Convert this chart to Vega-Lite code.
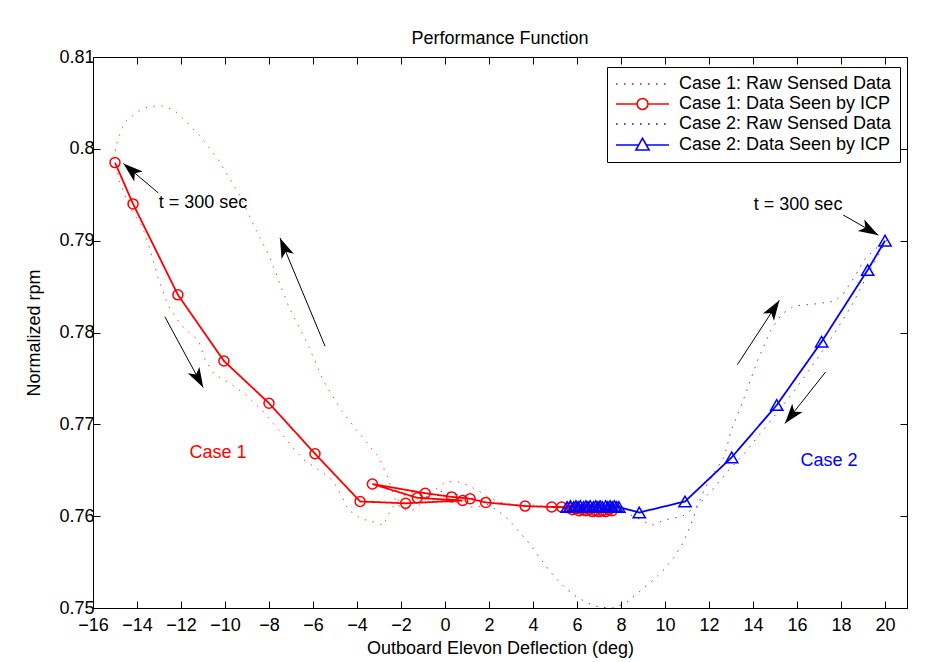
{
  "$schema": "https://vega.github.io/schema/vega-lite/v6.json",
  "width": 814,
  "height": 551,
  "autosize": {"type": "none"},
  "padding": {"left": 93, "top": 57, "right": 18, "bottom": 54},
  "background": "white",
  "title": {"text": "Performance Function", "fontSize": 18, "font": "Liberation Sans", "fontWeight": "normal", "color": "black", "anchor": "middle", "offset": 0},
  "config": {
    "font": "Liberation Sans",
    "view": {"stroke": null},
    "axis": {
      "grid": false, "domainColor": "black", "domainWidth": 1, "tickColor": "black", "tickWidth": 1, "tickSize": -7,
      "labelFont": "Liberation Sans", "labelFontSize": 18, "labelColor": "black", "labelFlush": false, "labelOverlap": false,
      "titleFont": "Liberation Sans", "titleFontSize": 18, "titleFontWeight": "normal", "titleColor": "black"
    },
    "legend": {
      "title": null, "orient": "none", "legendX": 514, "legendY": 10,
      "fillColor": "white", "strokeColor": "black", "padding": 8,
      "labelFont": "Liberation Sans", "labelFontSize": 18, "labelColor": "black", "labelLimit": 400,
      "symbolSize": 256, "labelOffset": 46, "rowPadding": 2, "symbolStrokeWidth": 1.6, "symbolFillColor": "white", "symbolOpacity": 1
    }
  },
  "datasets": {
    "raw": [
      {"s": "Case 1: Raw Sensed Data", "t": 1, "x": 8.0, "y": 0.7604},
      {"s": "Case 1: Raw Sensed Data", "t": 2, "x": 7.5, "y": 0.7602},
      {"s": "Case 1: Raw Sensed Data", "t": 3, "x": 7.0, "y": 0.7601},
      {"s": "Case 1: Raw Sensed Data", "t": 4, "x": 6.5, "y": 0.7602},
      {"s": "Case 1: Raw Sensed Data", "t": 5, "x": 6.0, "y": 0.7604},
      {"s": "Case 1: Raw Sensed Data", "t": 6, "x": 5.5, "y": 0.7607},
      {"s": "Case 1: Raw Sensed Data", "t": 7, "x": 5.0, "y": 0.7609},
      {"s": "Case 1: Raw Sensed Data", "t": 8, "x": 4.5, "y": 0.7611},
      {"s": "Case 1: Raw Sensed Data", "t": 9, "x": 4.0, "y": 0.7612},
      {"s": "Case 1: Raw Sensed Data", "t": 10, "x": 3.5, "y": 0.7612},
      {"s": "Case 1: Raw Sensed Data", "t": 11, "x": 3.0, "y": 0.7613},
      {"s": "Case 1: Raw Sensed Data", "t": 12, "x": 2.5, "y": 0.7615},
      {"s": "Case 1: Raw Sensed Data", "t": 13, "x": 2.0, "y": 0.7620},
      {"s": "Case 1: Raw Sensed Data", "t": 14, "x": 1.5, "y": 0.7628},
      {"s": "Case 1: Raw Sensed Data", "t": 15, "x": 1.0, "y": 0.7634},
      {"s": "Case 1: Raw Sensed Data", "t": 16, "x": 0.5, "y": 0.7638},
      {"s": "Case 1: Raw Sensed Data", "t": 17, "x": 0.0, "y": 0.7637},
      {"s": "Case 1: Raw Sensed Data", "t": 18, "x": -0.5, "y": 0.7628},
      {"s": "Case 1: Raw Sensed Data", "t": 19, "x": -1.0, "y": 0.7615},
      {"s": "Case 1: Raw Sensed Data", "t": 20, "x": -1.5, "y": 0.7606},
      {"s": "Case 1: Raw Sensed Data", "t": 21, "x": -2.0, "y": 0.7608},
      {"s": "Case 1: Raw Sensed Data", "t": 22, "x": -2.3, "y": 0.7620},
      {"s": "Case 1: Raw Sensed Data", "t": 23, "x": -2.6, "y": 0.7642},
      {"s": "Case 1: Raw Sensed Data", "t": 24, "x": -3.0, "y": 0.7664},
      {"s": "Case 1: Raw Sensed Data", "t": 25, "x": -3.55, "y": 0.7680},
      {"s": "Case 1: Raw Sensed Data", "t": 26, "x": -4.0, "y": 0.7693},
      {"s": "Case 1: Raw Sensed Data", "t": 27, "x": -4.7, "y": 0.7715},
      {"s": "Case 1: Raw Sensed Data", "t": 28, "x": -5.5, "y": 0.7746},
      {"s": "Case 1: Raw Sensed Data", "t": 29, "x": -6.2, "y": 0.7785},
      {"s": "Case 1: Raw Sensed Data", "t": 30, "x": -7.1, "y": 0.7828},
      {"s": "Case 1: Raw Sensed Data", "t": 31, "x": -8.0, "y": 0.7884},
      {"s": "Case 1: Raw Sensed Data", "t": 32, "x": -8.6, "y": 0.7912},
      {"s": "Case 1: Raw Sensed Data", "t": 33, "x": -9.3, "y": 0.7948},
      {"s": "Case 1: Raw Sensed Data", "t": 34, "x": -10.3, "y": 0.7988},
      {"s": "Case 1: Raw Sensed Data", "t": 35, "x": -11.0, "y": 0.8010},
      {"s": "Case 1: Raw Sensed Data", "t": 36, "x": -11.7, "y": 0.8028},
      {"s": "Case 1: Raw Sensed Data", "t": 37, "x": -12.3, "y": 0.8042},
      {"s": "Case 1: Raw Sensed Data", "t": 38, "x": -12.9, "y": 0.8047},
      {"s": "Case 1: Raw Sensed Data", "t": 39, "x": -13.5, "y": 0.8046},
      {"s": "Case 1: Raw Sensed Data", "t": 40, "x": -14.0, "y": 0.8040},
      {"s": "Case 1: Raw Sensed Data", "t": 41, "x": -14.55, "y": 0.8029},
      {"s": "Case 1: Raw Sensed Data", "t": 42, "x": -14.85, "y": 0.8012},
      {"s": "Case 1: Raw Sensed Data", "t": 43, "x": -15.05, "y": 0.7992},
      {"s": "Case 1: Raw Sensed Data", "t": 44, "x": -14.8, "y": 0.7965},
      {"s": "Case 1: Raw Sensed Data", "t": 45, "x": -14.3, "y": 0.7935},
      {"s": "Case 1: Raw Sensed Data", "t": 46, "x": -13.75, "y": 0.7915},
      {"s": "Case 1: Raw Sensed Data", "t": 47, "x": -13.4, "y": 0.7890},
      {"s": "Case 1: Raw Sensed Data", "t": 48, "x": -13.05, "y": 0.7860},
      {"s": "Case 1: Raw Sensed Data", "t": 49, "x": -12.6, "y": 0.7830},
      {"s": "Case 1: Raw Sensed Data", "t": 50, "x": -12.0, "y": 0.7808},
      {"s": "Case 1: Raw Sensed Data", "t": 51, "x": -11.2, "y": 0.7791},
      {"s": "Case 1: Raw Sensed Data", "t": 52, "x": -10.9, "y": 0.7770},
      {"s": "Case 1: Raw Sensed Data", "t": 53, "x": -10.5, "y": 0.7755},
      {"s": "Case 1: Raw Sensed Data", "t": 54, "x": -9.8, "y": 0.7745},
      {"s": "Case 1: Raw Sensed Data", "t": 55, "x": -9.1, "y": 0.7733},
      {"s": "Case 1: Raw Sensed Data", "t": 56, "x": -8.3, "y": 0.7715},
      {"s": "Case 1: Raw Sensed Data", "t": 57, "x": -7.6, "y": 0.7695},
      {"s": "Case 1: Raw Sensed Data", "t": 58, "x": -7.0, "y": 0.7677},
      {"s": "Case 1: Raw Sensed Data", "t": 59, "x": -6.4, "y": 0.7661},
      {"s": "Case 1: Raw Sensed Data", "t": 60, "x": -5.7, "y": 0.7650},
      {"s": "Case 1: Raw Sensed Data", "t": 61, "x": -5.1, "y": 0.7639},
      {"s": "Case 1: Raw Sensed Data", "t": 62, "x": -4.7, "y": 0.7622},
      {"s": "Case 1: Raw Sensed Data", "t": 63, "x": -4.4, "y": 0.7607},
      {"s": "Case 1: Raw Sensed Data", "t": 64, "x": -3.8, "y": 0.7597},
      {"s": "Case 1: Raw Sensed Data", "t": 65, "x": -3.1, "y": 0.7593},
      {"s": "Case 1: Raw Sensed Data", "t": 66, "x": -2.8, "y": 0.7590},
      {"s": "Case 1: Raw Sensed Data", "t": 67, "x": -2.55, "y": 0.7603},
      {"s": "Case 1: Raw Sensed Data", "t": 68, "x": -2.2, "y": 0.7616},
      {"s": "Case 1: Raw Sensed Data", "t": 69, "x": -1.8, "y": 0.7623},
      {"s": "Case 1: Raw Sensed Data", "t": 70, "x": -1.3, "y": 0.7627},
      {"s": "Case 1: Raw Sensed Data", "t": 71, "x": -0.8, "y": 0.7621},
      {"s": "Case 1: Raw Sensed Data", "t": 72, "x": -0.3, "y": 0.7616},
      {"s": "Case 1: Raw Sensed Data", "t": 73, "x": 0.2, "y": 0.7619},
      {"s": "Case 1: Raw Sensed Data", "t": 74, "x": 0.7, "y": 0.7613},
      {"s": "Case 1: Raw Sensed Data", "t": 75, "x": 1.2, "y": 0.7610},
      {"s": "Case 1: Raw Sensed Data", "t": 76, "x": 1.8, "y": 0.7611},
      {"s": "Case 2: Raw Sensed Data", "t": 1, "x": -0.2, "y": 0.7627},
      {"s": "Case 2: Raw Sensed Data", "t": 2, "x": 0.5, "y": 0.7624},
      {"s": "Case 2: Raw Sensed Data", "t": 3, "x": 1.2, "y": 0.7620},
      {"s": "Case 2: Raw Sensed Data", "t": 4, "x": 1.9, "y": 0.7613},
      {"s": "Case 2: Raw Sensed Data", "t": 5, "x": 2.4, "y": 0.7606},
      {"s": "Case 2: Raw Sensed Data", "t": 6, "x": 2.9, "y": 0.7596},
      {"s": "Case 2: Raw Sensed Data", "t": 7, "x": 3.4, "y": 0.7582},
      {"s": "Case 2: Raw Sensed Data", "t": 8, "x": 3.85, "y": 0.7570},
      {"s": "Case 2: Raw Sensed Data", "t": 9, "x": 4.2, "y": 0.7558},
      {"s": "Case 2: Raw Sensed Data", "t": 10, "x": 4.6, "y": 0.7545},
      {"s": "Case 2: Raw Sensed Data", "t": 11, "x": 5.06, "y": 0.7532},
      {"s": "Case 2: Raw Sensed Data", "t": 12, "x": 5.5, "y": 0.7521},
      {"s": "Case 2: Raw Sensed Data", "t": 13, "x": 6.0, "y": 0.7512},
      {"s": "Case 2: Raw Sensed Data", "t": 14, "x": 6.5, "y": 0.7505},
      {"s": "Case 2: Raw Sensed Data", "t": 15, "x": 7.0, "y": 0.7501},
      {"s": "Case 2: Raw Sensed Data", "t": 16, "x": 7.6, "y": 0.7500},
      {"s": "Case 2: Raw Sensed Data", "t": 17, "x": 8.2, "y": 0.7505},
      {"s": "Case 2: Raw Sensed Data", "t": 18, "x": 8.85, "y": 0.7518},
      {"s": "Case 2: Raw Sensed Data", "t": 19, "x": 9.45, "y": 0.7530},
      {"s": "Case 2: Raw Sensed Data", "t": 20, "x": 10.0, "y": 0.7543},
      {"s": "Case 2: Raw Sensed Data", "t": 21, "x": 10.4, "y": 0.7555},
      {"s": "Case 2: Raw Sensed Data", "t": 22, "x": 10.8, "y": 0.7570},
      {"s": "Case 2: Raw Sensed Data", "t": 23, "x": 11.15, "y": 0.7589},
      {"s": "Case 2: Raw Sensed Data", "t": 24, "x": 11.5, "y": 0.7612},
      {"s": "Case 2: Raw Sensed Data", "t": 25, "x": 11.8, "y": 0.7630},
      {"s": "Case 2: Raw Sensed Data", "t": 26, "x": 12.2, "y": 0.7646},
      {"s": "Case 2: Raw Sensed Data", "t": 27, "x": 12.7, "y": 0.7665},
      {"s": "Case 2: Raw Sensed Data", "t": 28, "x": 13.0, "y": 0.7693},
      {"s": "Case 2: Raw Sensed Data", "t": 29, "x": 13.6, "y": 0.7729},
      {"s": "Case 2: Raw Sensed Data", "t": 30, "x": 14.2, "y": 0.7769},
      {"s": "Case 2: Raw Sensed Data", "t": 31, "x": 14.8, "y": 0.7802},
      {"s": "Case 2: Raw Sensed Data", "t": 32, "x": 15.3, "y": 0.7820},
      {"s": "Case 2: Raw Sensed Data", "t": 33, "x": 15.9, "y": 0.7829},
      {"s": "Case 2: Raw Sensed Data", "t": 34, "x": 16.8, "y": 0.7831},
      {"s": "Case 2: Raw Sensed Data", "t": 35, "x": 17.7, "y": 0.7834},
      {"s": "Case 2: Raw Sensed Data", "t": 36, "x": 18.1, "y": 0.7842},
      {"s": "Case 2: Raw Sensed Data", "t": 37, "x": 18.6, "y": 0.7860},
      {"s": "Case 2: Raw Sensed Data", "t": 38, "x": 19.05, "y": 0.7879},
      {"s": "Case 2: Raw Sensed Data", "t": 39, "x": 19.5, "y": 0.7890},
      {"s": "Case 2: Raw Sensed Data", "t": 40, "x": 19.9, "y": 0.7897},
      {"s": "Case 2: Raw Sensed Data", "t": 41, "x": 20.1, "y": 0.7902},
      {"s": "Case 2: Raw Sensed Data", "t": 42, "x": 19.6, "y": 0.7880},
      {"s": "Case 2: Raw Sensed Data", "t": 43, "x": 19.1, "y": 0.7858},
      {"s": "Case 2: Raw Sensed Data", "t": 44, "x": 18.5, "y": 0.7830},
      {"s": "Case 2: Raw Sensed Data", "t": 45, "x": 17.8, "y": 0.7803},
      {"s": "Case 2: Raw Sensed Data", "t": 46, "x": 17.1, "y": 0.7778},
      {"s": "Case 2: Raw Sensed Data", "t": 47, "x": 16.4, "y": 0.7754},
      {"s": "Case 2: Raw Sensed Data", "t": 48, "x": 15.7, "y": 0.7731},
      {"s": "Case 2: Raw Sensed Data", "t": 49, "x": 15.0, "y": 0.7710},
      {"s": "Case 2: Raw Sensed Data", "t": 50, "x": 14.3, "y": 0.7689},
      {"s": "Case 2: Raw Sensed Data", "t": 51, "x": 13.6, "y": 0.7668},
      {"s": "Case 2: Raw Sensed Data", "t": 52, "x": 12.9, "y": 0.7650},
      {"s": "Case 2: Raw Sensed Data", "t": 53, "x": 12.2, "y": 0.7630},
      {"s": "Case 2: Raw Sensed Data", "t": 54, "x": 11.5, "y": 0.7612},
      {"s": "Case 2: Raw Sensed Data", "t": 55, "x": 10.8, "y": 0.7600},
      {"s": "Case 2: Raw Sensed Data", "t": 56, "x": 10.0, "y": 0.7596},
      {"s": "Case 2: Raw Sensed Data", "t": 57, "x": 9.4, "y": 0.7590},
      {"s": "Case 2: Raw Sensed Data", "t": 58, "x": 8.9, "y": 0.7596},
      {"s": "Case 2: Raw Sensed Data", "t": 59, "x": 8.3, "y": 0.7603},
      {"s": "Case 2: Raw Sensed Data", "t": 60, "x": 7.6, "y": 0.7607}
    ],
    "icp": [
      {"s": "Case 1: Data Seen by ICP", "t": 1, "x": 7.6, "y": 0.7606},
      {"s": "Case 1: Data Seen by ICP", "t": 2, "x": 7.45, "y": 0.7607},
      {"s": "Case 1: Data Seen by ICP", "t": 3, "x": 7.3, "y": 0.7605},
      {"s": "Case 1: Data Seen by ICP", "t": 4, "x": 7.15, "y": 0.7606},
      {"s": "Case 1: Data Seen by ICP", "t": 5, "x": 7.0, "y": 0.7605},
      {"s": "Case 1: Data Seen by ICP", "t": 6, "x": 6.85, "y": 0.7606},
      {"s": "Case 1: Data Seen by ICP", "t": 7, "x": 6.7, "y": 0.7605},
      {"s": "Case 1: Data Seen by ICP", "t": 8, "x": 6.55, "y": 0.7607},
      {"s": "Case 1: Data Seen by ICP", "t": 9, "x": 6.4, "y": 0.7606},
      {"s": "Case 1: Data Seen by ICP", "t": 10, "x": 6.25, "y": 0.7607},
      {"s": "Case 1: Data Seen by ICP", "t": 11, "x": 6.1, "y": 0.7606},
      {"s": "Case 1: Data Seen by ICP", "t": 12, "x": 5.95, "y": 0.7608},
      {"s": "Case 1: Data Seen by ICP", "t": 13, "x": 5.8, "y": 0.7607},
      {"s": "Case 1: Data Seen by ICP", "t": 14, "x": 5.65, "y": 0.7609},
      {"s": "Case 1: Data Seen by ICP", "t": 15, "x": 5.3, "y": 0.7610},
      {"s": "Case 1: Data Seen by ICP", "t": 16, "x": 4.85, "y": 0.7610},
      {"s": "Case 1: Data Seen by ICP", "t": 17, "x": 3.64, "y": 0.7611},
      {"s": "Case 1: Data Seen by ICP", "t": 18, "x": 1.85, "y": 0.7615},
      {"s": "Case 1: Data Seen by ICP", "t": 19, "x": 1.14, "y": 0.7619},
      {"s": "Case 1: Data Seen by ICP", "t": 20, "x": 0.3, "y": 0.7621},
      {"s": "Case 1: Data Seen by ICP", "t": 21, "x": -0.9, "y": 0.7625},
      {"s": "Case 1: Data Seen by ICP", "t": 22, "x": -3.3, "y": 0.7635},
      {"s": "Case 1: Data Seen by ICP", "t": 23, "x": -1.26, "y": 0.7620},
      {"s": "Case 1: Data Seen by ICP", "t": 24, "x": 0.8, "y": 0.7617},
      {"s": "Case 1: Data Seen by ICP", "t": 25, "x": -1.79, "y": 0.7614},
      {"s": "Case 1: Data Seen by ICP", "t": 26, "x": -3.86, "y": 0.7616},
      {"s": "Case 1: Data Seen by ICP", "t": 27, "x": -5.91, "y": 0.7668},
      {"s": "Case 1: Data Seen by ICP", "t": 28, "x": -8.0, "y": 0.7723},
      {"s": "Case 1: Data Seen by ICP", "t": 29, "x": -10.05, "y": 0.7769},
      {"s": "Case 1: Data Seen by ICP", "t": 30, "x": -12.14, "y": 0.7841},
      {"s": "Case 1: Data Seen by ICP", "t": 31, "x": -14.18, "y": 0.7940},
      {"s": "Case 1: Data Seen by ICP", "t": 32, "x": -15.0, "y": 0.7985},
      {"s": "Case 2: Data Seen by ICP", "t": 1, "x": 5.55, "y": 0.7610},
      {"s": "Case 2: Data Seen by ICP", "t": 2, "x": 5.7, "y": 0.7611},
      {"s": "Case 2: Data Seen by ICP", "t": 3, "x": 5.85, "y": 0.7610},
      {"s": "Case 2: Data Seen by ICP", "t": 4, "x": 5.95, "y": 0.7611},
      {"s": "Case 2: Data Seen by ICP", "t": 5, "x": 6.05, "y": 0.7610},
      {"s": "Case 2: Data Seen by ICP", "t": 6, "x": 6.15, "y": 0.7611},
      {"s": "Case 2: Data Seen by ICP", "t": 7, "x": 6.3, "y": 0.7610},
      {"s": "Case 2: Data Seen by ICP", "t": 8, "x": 6.4, "y": 0.7611},
      {"s": "Case 2: Data Seen by ICP", "t": 9, "x": 6.5, "y": 0.7610},
      {"s": "Case 2: Data Seen by ICP", "t": 10, "x": 6.6, "y": 0.7611},
      {"s": "Case 2: Data Seen by ICP", "t": 11, "x": 6.75, "y": 0.7610},
      {"s": "Case 2: Data Seen by ICP", "t": 12, "x": 6.85, "y": 0.7611},
      {"s": "Case 2: Data Seen by ICP", "t": 13, "x": 6.95, "y": 0.7610},
      {"s": "Case 2: Data Seen by ICP", "t": 14, "x": 7.05, "y": 0.7611},
      {"s": "Case 2: Data Seen by ICP", "t": 15, "x": 7.15, "y": 0.7610},
      {"s": "Case 2: Data Seen by ICP", "t": 16, "x": 7.3, "y": 0.7611},
      {"s": "Case 2: Data Seen by ICP", "t": 17, "x": 7.4, "y": 0.7610},
      {"s": "Case 2: Data Seen by ICP", "t": 18, "x": 7.5, "y": 0.7611},
      {"s": "Case 2: Data Seen by ICP", "t": 19, "x": 7.6, "y": 0.7610},
      {"s": "Case 2: Data Seen by ICP", "t": 20, "x": 7.7, "y": 0.7611},
      {"s": "Case 2: Data Seen by ICP", "t": 21, "x": 7.8, "y": 0.7610},
      {"s": "Case 2: Data Seen by ICP", "t": 22, "x": 7.9, "y": 0.7610},
      {"s": "Case 2: Data Seen by ICP", "t": 23, "x": 8.83, "y": 0.7604},
      {"s": "Case 2: Data Seen by ICP", "t": 24, "x": 10.91, "y": 0.7616},
      {"s": "Case 2: Data Seen by ICP", "t": 25, "x": 13.03, "y": 0.7664},
      {"s": "Case 2: Data Seen by ICP", "t": 26, "x": 15.08, "y": 0.7721},
      {"s": "Case 2: Data Seen by ICP", "t": 27, "x": 17.12, "y": 0.7790},
      {"s": "Case 2: Data Seen by ICP", "t": 28, "x": 19.21, "y": 0.7868},
      {"s": "Case 2: Data Seen by ICP", "t": 29, "x": 20.0, "y": 0.7900}
    ],
    "arrows": [
      {"tx": -13.03, "ty": 0.7952, "hx": -14.62, "hy": 0.7984, "ang": -49.4},
      {"tx": -12.73, "ty": 0.7817, "hx": -10.99, "hy": 0.7740, "ang": 151.3},
      {"tx": -5.45, "ty": 0.7785, "hx": -7.5, "hy": 0.7903, "ang": -22.5},
      {"tx": 13.29, "ty": 0.7765, "hx": 15.2, "hy": 0.7835, "ang": 33.2},
      {"tx": 17.3, "ty": 0.7757, "hx": 15.45, "hy": 0.7701, "ang": -141.4},
      {"tx": 18.1, "ty": 0.7928, "hx": 19.7, "hy": 0.7906, "ang": 119.7}
    ],
    "notes": [
      {"label": "t = 300 sec", "x": -11.0, "y": 0.7941},
      {"label": "t = 300 sec", "x": 16.05, "y": 0.7939},
      {"label": "Case 1", "x": -10.32, "y": 0.7669},
      {"label": "Case 2", "x": 17.45, "y": 0.7660}
    ]
  },
  "resolve": {"axis": {"x": "independent", "y": "independent"}},
  "layer": [
    {
      "data": {"name": "raw"},
      "mark": {"type": "line", "strokeWidth": 1, "strokeCap": "butt", "opacity": 0.75},
      "encoding": {
        "x": {"field": "x", "type": "quantitative", "scale": {"domain": [-16, 21], "nice": false, "zero": false},
          "axis": {"orient": "bottom", "values": [-16, -14, -12, -10, -8, -6, -4, -2, 0, 2, 4, 6, 8, 10, 12, 14, 16, 18, 20], "format": "d", "title": "Outboard Elevon Deflection (deg)", "labelPadding": 15, "titlePadding": 5}},
        "y": {"field": "y", "type": "quantitative", "scale": {"domain": [0.75, 0.81], "nice": false, "zero": false},
          "axis": {"orient": "left", "values": [0.75, 0.76, 0.77, 0.78, 0.79, 0.8, 0.81], "format": ".2~f", "title": "Normalized rpm", "labelPadding": 6, "titlePadding": 15}},
        "color": {"field": "s", "type": "nominal",
          "scale": {"domain": ["Case 1: Raw Sensed Data", "Case 1: Data Seen by ICP", "Case 2: Raw Sensed Data", "Case 2: Data Seen by ICP"], "range": ["#FF0000", "#FF0000", "#0000FF", "#0000FF"]}},
        "strokeDash": {"field": "s", "type": "nominal",
          "scale": {"domain": ["Case 1: Raw Sensed Data", "Case 1: Data Seen by ICP", "Case 2: Raw Sensed Data", "Case 2: Data Seen by ICP"], "range": [[1.5, 6.5], [1, 0], [1.5, 6.5], [1, 0]]}},
        "order": {"field": "t", "type": "quantitative"}
      }
    },
    {
      "data": {"name": "icp"},
      "mark": {"type": "line", "strokeWidth": 1.8},
      "encoding": {
        "x": {"field": "x", "type": "quantitative", "axis": {"orient": "top", "values": [-16, -14, -12, -10, -8, -6, -4, -2, 0, 2, 4, 6, 8, 10, 12, 14, 16, 18, 20], "labels": false, "title": null}},
        "y": {"field": "y", "type": "quantitative", "axis": {"orient": "right", "values": [0.75, 0.76, 0.77, 0.78, 0.79, 0.8, 0.81], "labels": false, "title": null}},
        "color": {"field": "s", "type": "nominal"},
        "strokeDash": {"field": "s", "type": "nominal"},
        "order": {"field": "t", "type": "quantitative"}
      }
    },
    {
      "data": {"name": "icp"},
      "transform": [{"filter": "datum.s === 'Case 1: Data Seen by ICP'"}],
      "mark": {"type": "point", "shape": "circle", "size": 100, "strokeWidth": 1.5, "filled": false, "color": "#FF0000", "opacity": 1},
      "encoding": {
        "x": {"field": "x", "type": "quantitative", "axis": null},
        "y": {"field": "y", "type": "quantitative", "axis": null}
      }
    },
    {
      "data": {"name": "icp"},
      "transform": [{"filter": "datum.s === 'Case 2: Data Seen by ICP'"}],
      "mark": {"type": "point", "shape": "triangle-up", "size": 150, "strokeWidth": 1.5, "filled": false, "color": "#0000FF", "opacity": 1},
      "encoding": {
        "x": {"field": "x", "type": "quantitative", "axis": null},
        "y": {"field": "y", "type": "quantitative", "axis": null}
      }
    },
    {
      "data": {"name": "icp"},
      "transform": [{"filter": "false"}],
      "mark": {"type": "point", "filled": false, "strokeWidth": 1.6, "opacity": 1},
      "encoding": {
        "x": {"field": "x", "type": "quantitative", "axis": null},
        "y": {"field": "y", "type": "quantitative", "axis": null},
        "color": {"field": "s", "type": "nominal"},
        "strokeDash": {"field": "s", "type": "nominal"},
        "shape": {"field": "s", "type": "nominal",
          "scale": {"domain": ["Case 1: Raw Sensed Data", "Case 1: Data Seen by ICP", "Case 2: Raw Sensed Data", "Case 2: Data Seen by ICP"],
            "range": ["M-1,0H5.625",
              "M-1,0H1.6225M3.0025,0H5.625M3.0025,0L2.9105,0.345L2.6575,0.598L2.3125,0.69L1.9675,0.598L1.7145,0.345L1.6225,0L1.7145,-0.345L1.9675,-0.598L2.3125,-0.69L2.6575,-0.598L2.9105,-0.345Z",
              "M-1,0H5.625",
              "M-1,0H1.836M2.789,0H5.625M2.3125,-0.84L3.1425,0.625L1.4825,0.625Z"]}}
      }
    },
    {
      "data": {"name": "arrows"},
      "mark": {"type": "rule", "color": "black", "strokeWidth": 1},
      "encoding": {
        "x": {"field": "tx", "type": "quantitative", "axis": null},
        "y": {"field": "ty", "type": "quantitative", "axis": null},
        "x2": {"field": "hx"},
        "y2": {"field": "hy"}
      }
    },
    {
      "data": {"name": "arrows"},
      "mark": {"type": "point", "shape": "M0,0L-0.33,1L0,0.75L0.33,1Z", "size": 1600, "filled": true, "color": "black", "opacity": 1, "strokeWidth": 0},
      "encoding": {
        "x": {"field": "hx", "type": "quantitative", "axis": null},
        "y": {"field": "hy", "type": "quantitative", "axis": null},
        "angle": {"field": "ang", "type": "quantitative", "scale": null}
      }
    },
    {
      "data": {"name": "notes"},
      "mark": {"type": "text", "fontSize": 18, "font": "Liberation Sans", "align": "center", "baseline": "middle"},
      "encoding": {
        "x": {"field": "x", "type": "quantitative", "axis": null},
        "y": {"field": "y", "type": "quantitative", "axis": null},
        "text": {"field": "label"},
        "color": {"condition": [{"test": "datum.label === 'Case 1'", "value": "#FF0000"}, {"test": "datum.label === 'Case 2'", "value": "#0000FF"}], "value": "black"}
      }
    }
  ]
}
